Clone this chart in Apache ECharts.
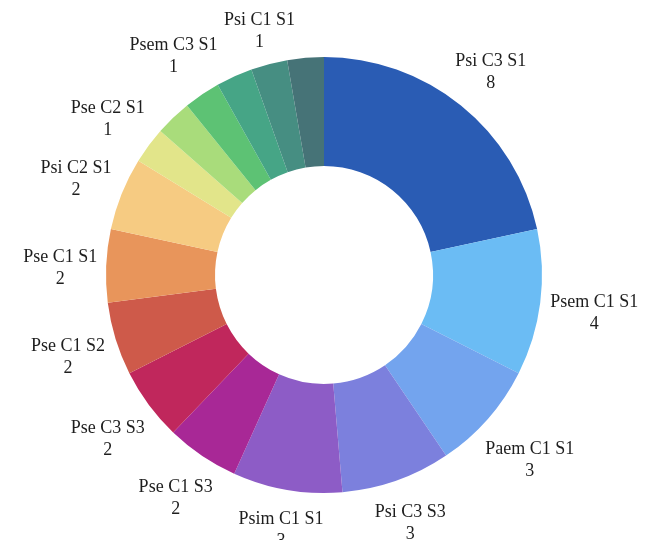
<!DOCTYPE html>
<html>
<head>
<meta charset="utf-8">
<script src="https://cdn.jsdelivr.net/npm/echarts@6/dist/echarts.min.js"></script>
<style>
  html, body { margin: 0; padding: 0; background: #fff; }
  #chart { width: 655px; height: 540px; }
</style>
</head>
<body>
<div id="chart"></div>
<script>
// slices, clockwise from 12 o'clock
const names = [
  'Psi C3 S1', 'Psem C1 S1', 'Paem C1 S1', 'Psi C3 S3', 'Psim C1 S1',
  'Pse C1 S3', 'Pse C3 S3', 'Pse C1 S2', 'Pse C1 S1', 'Psi C2 S1',
  'Pse C2 S1', 'Psim C2 S1', 'Psem C3 S1', 'Pse C3 S1', 'Psi C1 S1', 'Psi C1 S3'
]
const values = [8, 4, 3, 3, 3, 2, 2, 2, 2, 2, 1, 1, 1, 1, 1, 1]
// the reference only prints every other label among the small slices
const labelShown = [
  true, true, true, true, true, true, true, true, true, true,
  true, false, true, false, true, false
]
const colors = [
  '#2a5cb4', '#6bbcf4', '#73a4ee', '#7c80dd', '#8d5cc6',
  '#a82896', '#c0275c', '#ce5a4a', '#e8955b', '#f6cb82',
  '#e2e58a', '#a9dc7b', '#5dc274', '#46a586', '#468e82', '#467377'
]

const chart = echarts.init(document.getElementById('chart'))
const LABEL_GAP = 8

// put each label box just outside the ring, centred on the slice's mid angle
const placeLabel = (params) => {
  const lay = chart.getModel().getSeriesByIndex(0).getData().getItemLayout(params.dataIndex)
  if (!lay) return {}
  const mid = (lay.startAngle + lay.endAngle) / 2
  const dx = Math.cos(mid)
  const dy = Math.sin(mid)
  const w = params.labelRect.width
  const h = params.labelRect.height
  const t = lay.r + LABEL_GAP + Math.abs(dx) * w / 2 + Math.abs(dy) * h / 2
  return { x: lay.cx + dx * t, y: lay.cy + dy * t + 4, align: 'center', verticalAlign: 'middle' }
}

chart.setOption({
  animation: false,
  series: [
    {
      type: 'pie',
      center: [324, 275],
      radius: [109, 218],
      startAngle: 90,
      clockwise: true,
      avoidLabelOverlap: false,
      label: {
        show: true,
        position: 'outside',
        formatter: '{b}\n{c}',
        fontFamily: 'Liberation Serif',
        fontSize: 18,
        lineHeight: 22,
        color: '#1e1e1e',
        align: 'center'
      },
      labelLine: { show: false },
      labelLayout: placeLabel,
      emphasis: { disabled: true },
      data: names.map((n, i) => ({
        name: n,
        value: values[i],
        itemStyle: { color: colors[i] },
        label: { show: labelShown[i] }
      }))
    }
  ]
})
</script>
</body>
</html>
